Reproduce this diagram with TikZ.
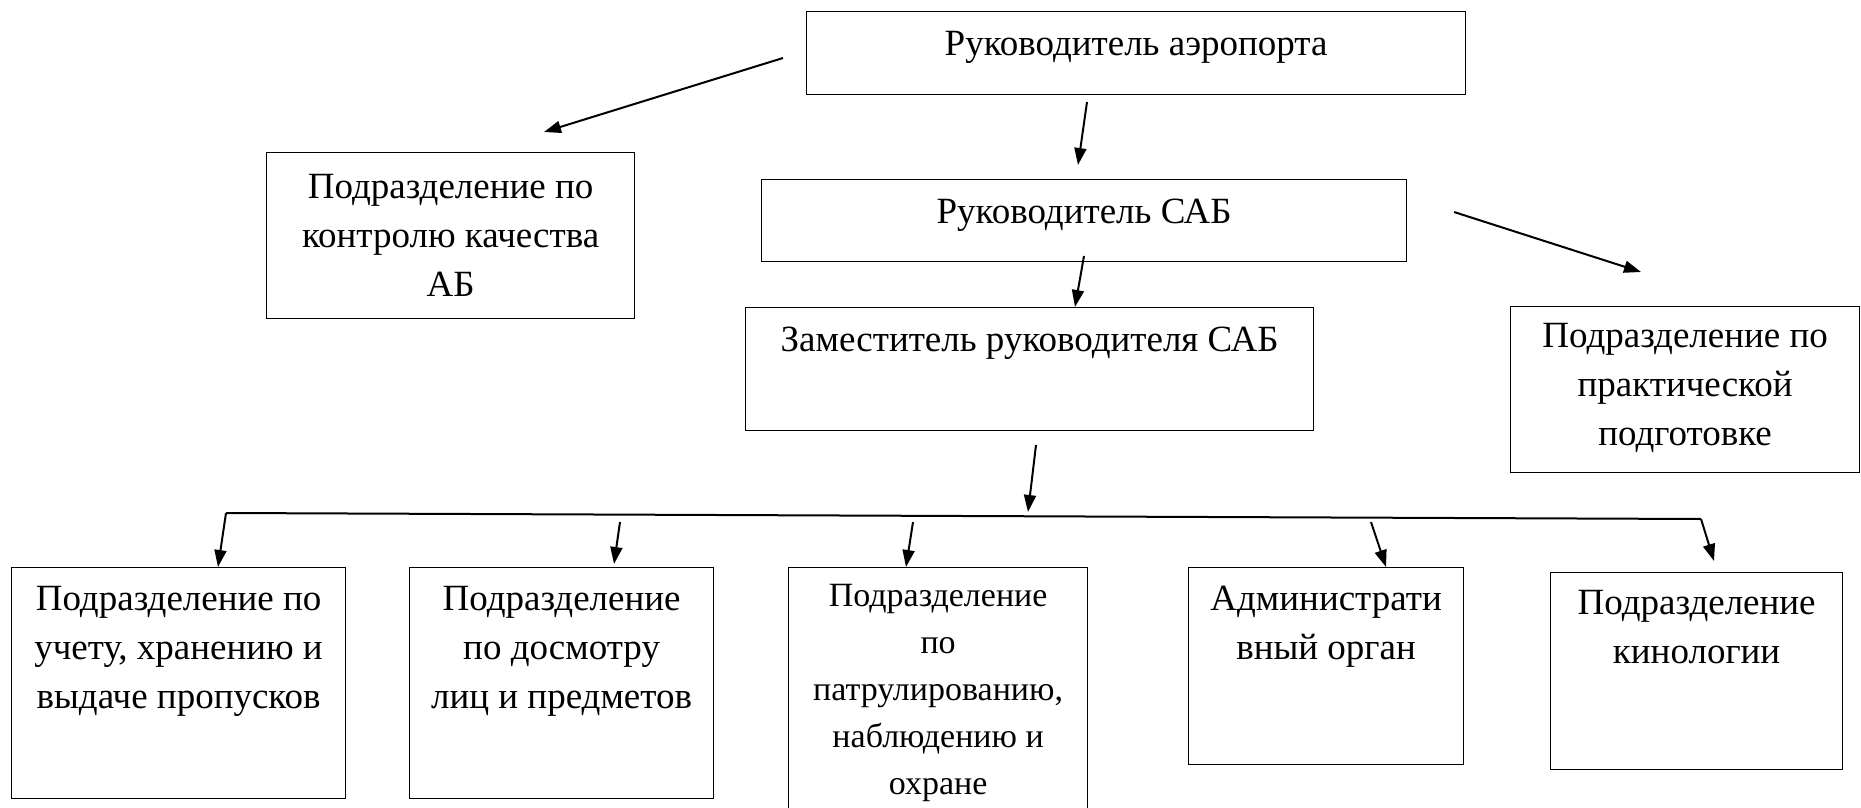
\documentclass[tikz,border=0pt]{standalone}
\usepackage{fontspec}
\setmainfont{Liberation Serif}
\usetikzlibrary{arrows.meta}
\begin{document}
\begin{tikzpicture}[x=1pt,y=-1pt,
  box/.style={draw, line width=1.2pt, rectangle, inner sep=0pt, anchor=north west},
  txt/.style={inner sep=0pt, align=center, font=\fontsize{37}{49}\selectfont},
  txtsmall/.style={inner sep=0pt, align=center, font=\fontsize{34}{47}\selectfont},
  arr/.style={line width=2pt, -{Triangle[length=17pt,width=12pt]}},
  bus/.style={line width=2pt}]
\useasboundingbox (0,0) rectangle (1861,808);
% boxes
\node[box, minimum width=659pt, minimum height=83pt] (A) at (806,11) {};
\node[box, minimum width=368pt, minimum height=166pt] (B) at (266,152) {};
\node[box, minimum width=645pt, minimum height=82pt] (C) at (761,179) {};
\node[box, minimum width=568pt, minimum height=123pt] (D) at (745,307) {};
\node[box, minimum width=349pt, minimum height=166pt] (E) at (1510,306) {};
\node[box, minimum width=334pt, minimum height=231pt] (F1) at (11,567) {};
\node[box, minimum width=304pt, minimum height=231pt] (F2) at (409,567) {};
\node[box, minimum width=299pt, minimum height=250pt] (F3) at (788,567) {};
\node[box, minimum width=275pt, minimum height=197pt] (F4) at (1188,567) {};
\node[box, minimum width=292pt, minimum height=197pt] (F5) at (1550,572) {};
% texts
\node[txt] (tA) at ([yshift=6pt]A.center) {Руководитель аэропорта};
\node[txt] (tB) at (B.center) {Подразделение по\\контролю качества\\АБ};
\node[txt] (tC) at ([yshift=5pt]C.center) {Руководитель САБ};
\node[txt, anchor=north] (tD) at ([yshift=-20pt]D.north) {Заместитель руководителя САБ};
\node[txt] (tE) at ([yshift=2pt]E.center) {Подразделение по\\практической\\подготовке};
\node[txt, anchor=north] (tF1) at ([yshift=-19pt]F1.north) {Подразделение по\\учету, хранению и\\выдаче пропусков};
\node[txt, anchor=north] (tF2) at ([yshift=-19pt]F2.north) {Подразделение\\по досмотру\\лиц и предметов};
\node[txtsmall, anchor=north] (tF3) at ([yshift=-17pt]F3.north) {Подразделение\\по\\патрулированию,\\наблюдению и\\охране};
\node[txt, anchor=north] (tF4) at ([yshift=-19pt]F4.north) {Администрати\\вный орган};
\node[txt, anchor=north] (tF5) at ([yshift=-18pt]F5.north) {Подразделение\\кинологии};
% arrow coordinates
\coordinate (aB1) at (783,58);   \coordinate (aB2) at (544,132);
\coordinate (aC1) at (1087,102); \coordinate (aC2) at (1078,165);
\coordinate (aE1) at (1454,212); \coordinate (aE2) at (1641,272);
\coordinate (aD1) at (1084,256); \coordinate (aD2) at (1075,307);
\coordinate (aS1) at (1036,445); \coordinate (aS2) at (1028,512);
\coordinate (busL) at (226,513); \coordinate (busR) at (1701,519);
\coordinate (f1e) at (218,567);
\coordinate (f2s) at (620,522);  \coordinate (f2e) at (614,564);
\coordinate (f3s) at (913,522);  \coordinate (f3e) at (906,567);
\coordinate (f4s) at (1371,522); \coordinate (f4e) at (1386,567);
\coordinate (f5e) at (1714,561);
% arrows
\draw[arr] (aB1) -- (aB2);
\draw[arr] (aC1) -- (aC2);
\draw[arr] (aE1) -- (aE2);
\draw[arr] (aD1) -- (aD2);
\draw[arr] (aS1) -- (aS2);
\draw[bus] (busL) -- (busR);
\draw[arr] (busL) -- (f1e);
\draw[arr] (f2s) -- (f2e);
\draw[arr] (f3s) -- (f3e);
\draw[arr] (f4s) -- (f4e);
\draw[arr] (busR) -- (f5e);
\end{tikzpicture}
\end{document}
